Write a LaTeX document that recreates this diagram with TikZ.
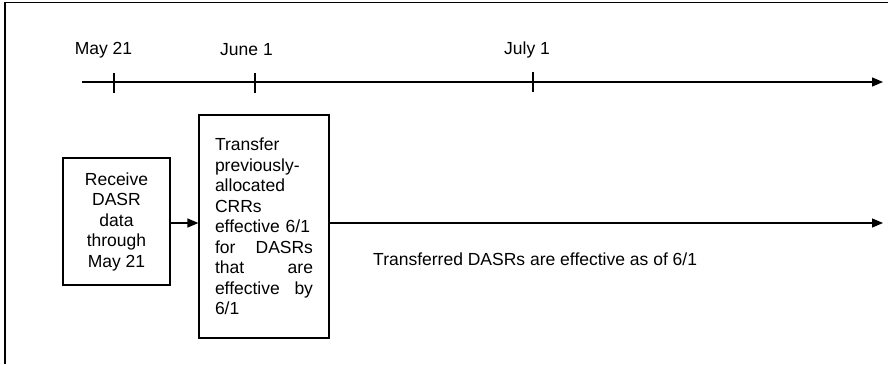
\documentclass[tikz,border=0pt]{standalone}
\usepackage{fontspec}
\setmainfont{Liberation Sans}
\usetikzlibrary{arrows.meta}
\begin{document}
\begin{tikzpicture}[x=1pt,y=-1pt,
  txt/.style={font=\fontsize{17.5}{20.5}\selectfont, inner sep=0pt},
  box/.style={draw, line width=1.2pt, txt, align=center},
  line/.style={line width=1.3pt},
  arr/.style={line width=1.3pt, -{Triangle[length=11pt,width=9pt]}},
  tick/.style={line width=1.3pt}]
\useasboundingbox (0,0) rectangle (888,364);
% partial outer frame
\coordinate (fbl) at (5,364);
\coordinate (ftl) at (5,2.5);
\coordinate (ftr) at (888,2.5);
\draw[line width=1.6pt] (fbl) -- (ftl) -- (ftr);
% timeline
\coordinate (t0) at (82,82);
\coordinate (t1) at (883,82);
\draw[arr] (t0) -- (t1);
\coordinate (k1a) at (114,73); \coordinate (k1b) at (114,93);
\coordinate (k2a) at (255,73); \coordinate (k2b) at (255,93);
\coordinate (k3a) at (533,72); \coordinate (k3b) at (533,92);
\draw[tick] (k1a) -- (k1b);
\draw[tick] (k2a) -- (k2b);
\draw[tick] (k3a) -- (k3b);
\node[txt] (l1) at (103.5,50) {May 21};
\node[txt] (l2) at (246.5,50) {June 1};
\node[txt] (l3) at (527,50) {July 1};
% boxes
\node[box, minimum width=107pt, minimum height=127pt] (b1) at (116.5,221.5)
  {Receive\\DASR\\data\\through\\May 21};
\node[box, minimum width=130pt, minimum height=223pt, text width=98pt, align=left] (b2) at (264,226.5)
  {Transfer\\previously-\\allocated\\CRRs\\effective 6/1\\for\hfill DASRs\\that\hfill are\\effective\hfill by\\6/1};
\coordinate (a1) at (170,223);
\coordinate (a2) at (199,223);
\draw[arr] (a1) -- (b2.west |- a2);
\coordinate (e2) at (883,223);
\draw[arr] (b2.east |- e2) -- (e2);
\node[txt, anchor=west] (note) at (373,259) {Transferred DASRs are effective as of 6/1};
\end{tikzpicture}
\end{document}
